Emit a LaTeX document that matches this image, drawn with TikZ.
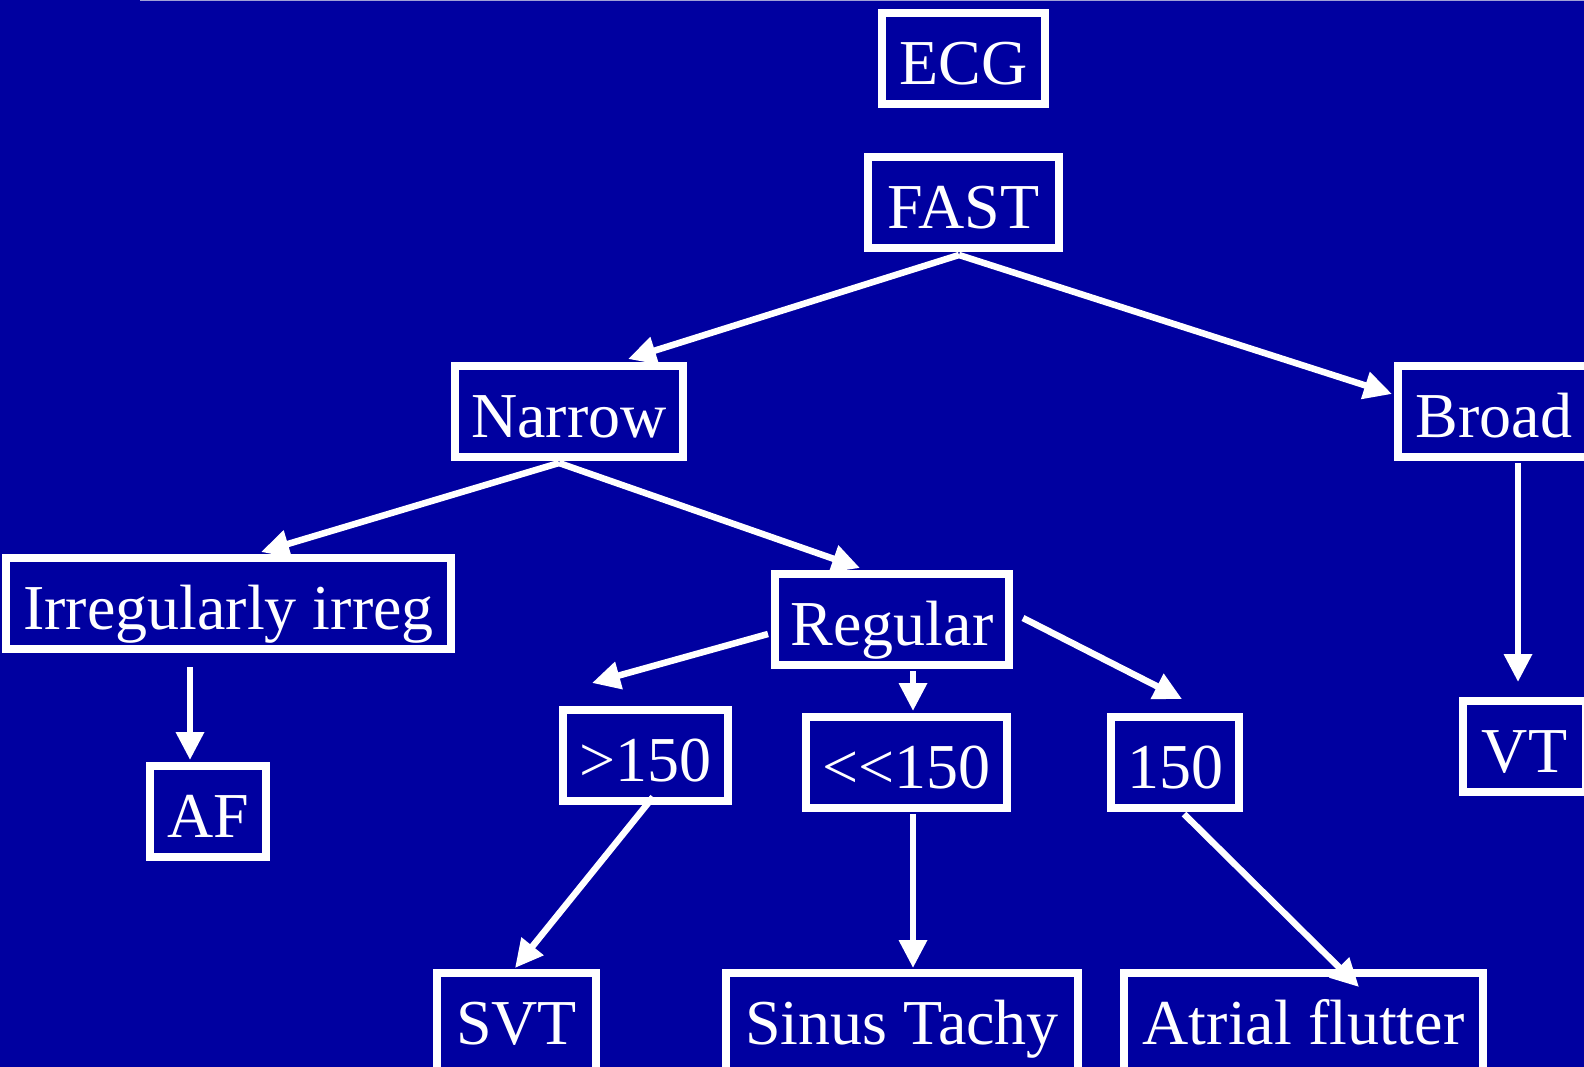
\documentclass[tikz,border=0pt]{standalone}
\usepackage{fontspec}
\setmainfont{Liberation Serif}
\usetikzlibrary{arrows.meta}
\definecolor{bg}{RGB}{0,0,160}
\definecolor{topline}{RGB}{160,160,215}
\begin{document}
\begin{tikzpicture}[x=1pt,y=-1pt,
  box/.style={draw=white, line width=8pt, fill=bg, text=white,
    font=\fontsize{64}{70}\selectfont, minimum height=91pt,
    text height=52pt, text depth=0pt, inner sep=0pt, anchor=center},
  lowbox/.style={box, minimum height=110pt, text depth=19pt},
  arr/.style={white, line width=6.5pt, -{Triangle[length=28pt,width=27pt]}}]
\useasboundingbox (0,0) rectangle (1584,1067);
\fill[bg] (0,0) rectangle (1584,1067);
\clip (0,0) rectangle (1584,1067);
\draw[topline, line width=1.5pt] (140,0.75) -- (1584,0.75);

% nodes
\node[box, minimum width=163pt] (ecg) at (963.5,58.5) {ECG};
\node[box, minimum width=191pt] (fast) at (963.5,202.5) {FAST};
\node[box, minimum width=228pt] (narrow) at (569,411) {Narrow};
\node[box, minimum width=192pt] (broad) at (1494,411) {Broad};
\node[box, minimum width=445pt] (irreg) at (228.5,603.5) {Irregularly irreg};
\node[box, minimum width=234pt] (regular) at (892,619.5) {Regular};
\node[box, minimum width=165pt] (gt) at (645.5,755) {>150};
\node[box, minimum width=201pt] (ll) at (906.5,762.5) {<{}<150};
\node[box, minimum width=128pt] (eq) at (1175,762.5) {150};
\node[box, minimum width=123pt] (vt) at (1524.5,746) {VT};
\node[box, minimum width=116pt] (af) at (208,811.5) {AF};
\node[lowbox, minimum width=159.5pt] (svt) at (516.5,1027.5) {SVT};
\node[lowbox, minimum width=352pt] (sinus) at (902,1027.5) {Sinus Tachy};
\node[lowbox, minimum width=359pt] (flutter) at (1303.5,1027.5) {Atrial flutter};

% connector end points
\coordinate (fastS) at (959,255);
\coordinate (narrowT) at (628,359);
\coordinate (broadT) at (1392,394);
\coordinate (narrowS) at (559,463);
\coordinate (irregT) at (261,552);
\coordinate (regularT) at (860,568);
\coordinate (broadS) at (1518,463);
\coordinate (vtT) at (1518,682);
\coordinate (irregS) at (190,667);
\coordinate (afT) at (190,760);
\coordinate (regL) at (768,634);
\coordinate (gtT) at (592,683);
\coordinate (regB) at (913,671);
\coordinate (llT) at (913,711);
\coordinate (regR) at (1023,618);
\coordinate (eqT) at (1182,699);
\coordinate (gtS) at (653,797);
\coordinate (svtT) at (515,968);
\coordinate (llS) at (913,814);
\coordinate (sinusT) at (913,968);
\coordinate (eqS) at (1184,814);
\coordinate (flutterT) at (1359,987);

% connectors
\draw[arr] (fastS) -- (narrowT);
\draw[arr] (fastS) -- (broadT);
\draw[arr] (narrowS) -- (irregT);
\draw[arr] (narrowS) -- (regularT);
\draw[arr] (broadS) -- (vtT);
\draw[arr] (irregS) -- (afT);
\draw[arr] (regL) -- (gtT);
\draw[arr] (regB) -- (llT);
\draw[arr] (regR) -- (eqT);
\draw[arr] (gtS) -- (svtT);
\draw[arr] (llS) -- (sinusT);
\draw[arr] (eqS) -- (flutterT);
\end{tikzpicture}
\end{document}
